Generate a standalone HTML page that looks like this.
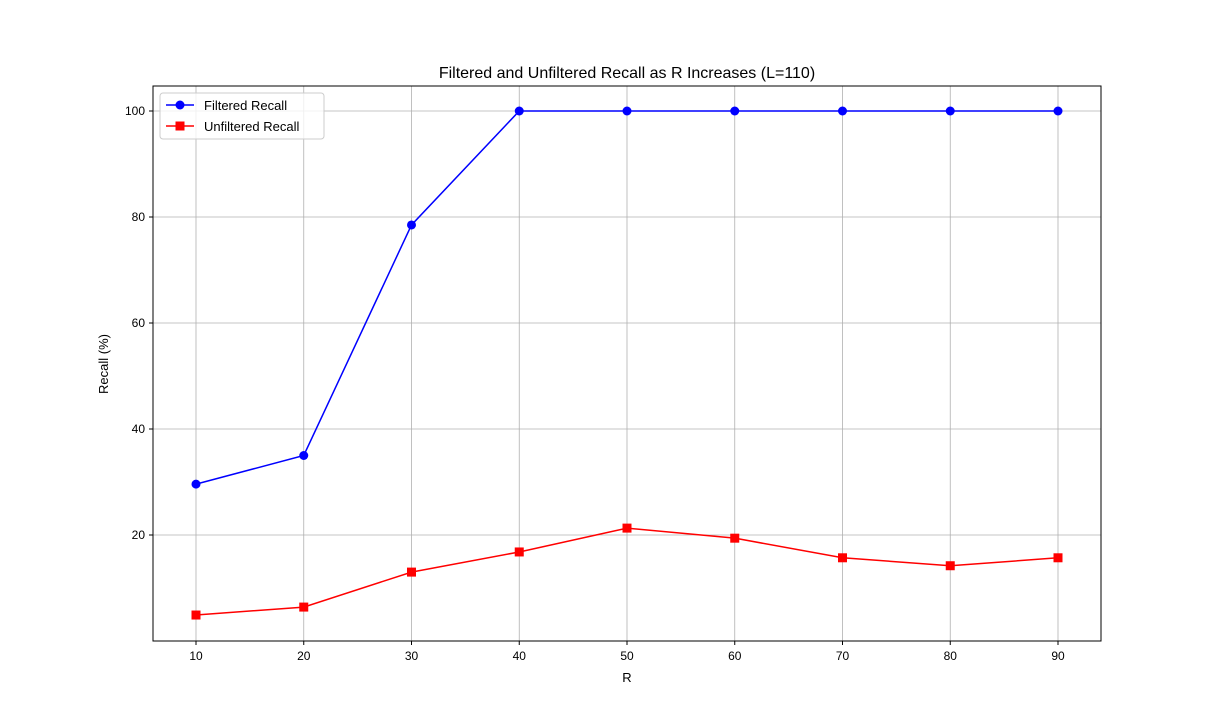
<!DOCTYPE html>
<html><head><meta charset="utf-8"><style>
body{margin:0;background:#fff;}
svg{font-family:"Liberation Sans","DejaVu Sans",sans-serif;}
</style></head><body>
<svg id="chart" width="1223" height="720" xmlns="http://www.w3.org/2000/svg">
<rect width="1223" height="720" fill="#fff"/>
<text x="627" y="78" text-anchor="middle" font-size="16">Filtered and Unfiltered Recall as R Increases (L=110)</text>
<g id="grid"></g>
<g id="series"></g>
<rect x="153" y="86" width="948" height="555" fill="none" stroke="#000" stroke-width="1"/>
<g id="ticks"></g>
<text x="627" y="682" text-anchor="middle" font-size="13">R</text>
<text transform="translate(108,364) rotate(-90)" text-anchor="middle" font-size="13">Recall (%)</text>
<g>
<rect x="160" y="93" width="164" height="46" rx="3" fill="#fff" fill-opacity="0.8" stroke="#ccc"/>
<g>
<line x1="166" y1="105" x2="194" y2="105" stroke="blue" stroke-width="1.5"/>
<circle cx="180" cy="105" r="4.5" fill="blue"/>
<text x="204" y="110" font-size="13">Filtered Recall</text></g>
<g>
<line x1="166" y1="126" x2="194" y2="126" stroke="red" stroke-width="1.5"/>
<rect x="175.5" y="121.5" width="9" height="9" fill="red"/>
<text x="204" y="131" font-size="13">Unfiltered Recall</text></g>
</g>
</svg>
<script>
const categories=[10,20,30,40,50,60,70,80,90];
const filteredRecall=[29.6,35.0,78.5,100,100,100,100,100,100];
const unfilteredRecall=[4.9,6.4,13.0,16.8,21.3,19.4,15.7,14.2,15.7];
const xTicks=[10,20,30,40,50,60,70,80,90];
const yTicks=[20,40,60,80,100];
const NS="http://www.w3.org/2000/svg";
const L=153,R=1101,T=86,B=641;
const xMin=6,xMax=94,yMin=0,yMax=104.72;
function xs(v){return 196+(v-10)*(1058-196)/80;}
function ys(v){return 641-v*5.3;}
function mk(tag,attrs,parent){const e=document.createElementNS(NS,tag);for(const k in attrs)e.setAttribute(k,attrs[k]);parent.appendChild(e);return e;}
const grid=document.getElementById('grid'),ticks=document.getElementById('ticks'),series=document.getElementById('series');
xTicks.forEach(t=>{const x=xs(t);
const g=mk('line',{x1:x,x2:x,y1:T,y2:B,stroke:'#b0b0b0','stroke-width':0.8},grid);


mk('line',{x1:x,x2:x,y1:B,y2:B+4,stroke:'#000'},ticks);
const tx=mk('text',{x:x,y:B+19,'text-anchor':'middle','font-size':12},ticks);tx.textContent=t;

});
yTicks.forEach(t=>{const y=ys(t);
const g=mk('line',{x1:L,x2:R,y1:y,y2:y,stroke:'#b0b0b0','stroke-width':0.8},grid);


mk('line',{x1:L-4,x2:L,y1:y,y2:y,stroke:'#000'},ticks);
const tx=mk('text',{x:L-8,y:y+4,'text-anchor':'end','font-size':12},ticks);tx.textContent=t;

});
function draw(vals,color,marker,name){
const pts=categories.map((c,i)=>xs(c)+','+ys(vals[i])).join(' ');
const pl=mk('polyline',{points:pts,fill:'none',stroke:color,'stroke-width':1.5},series);


categories.forEach((c,i)=>{const x=xs(c),y=ys(vals[i]);let m;
if(marker==='o')m=mk('circle',{cx:x,cy:y,r:4.5,fill:color},series);
else m=mk('rect',{x:x-4.5,y:y-4.5,width:9,height:9,fill:color},series);

});}
draw(filteredRecall,'blue','o','filtered-recall');
draw(unfilteredRecall,'red','s','unfiltered-recall');
</script>
</body></html>
